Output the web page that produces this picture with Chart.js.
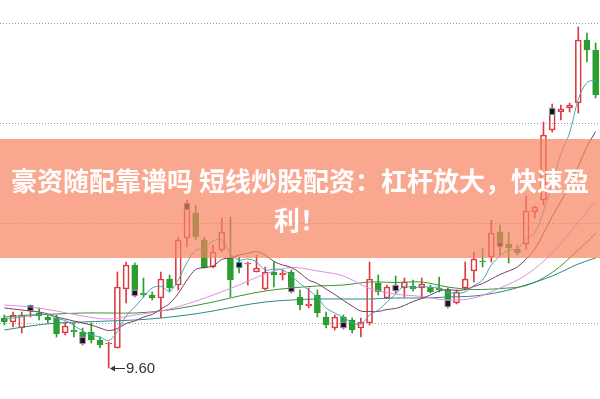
<!DOCTYPE html>
<html>
<head>
<meta charset="utf-8">
<script src="https://cdn.jsdelivr.net/npm/chart.js@4.4.1/dist/chart.umd.min.js"></script>
<style>
html, body { margin: 0; padding: 0; background: #fff; }
#wrap { position: relative; width: 600px; height: 399px; overflow: hidden; }
#banner {
  position: absolute; left: 0; top: 139px; width: 600px; height: 119px;
  box-sizing: border-box; padding: 0 6px;
  background: rgba(248, 130, 95, 0.7); color: #fff;
  font: bold 26px/39px "Noto Sans CJK SC", sans-serif;
  display: flex; align-items: center; justify-content: center; text-align: center;
}
</style>
</head>
<body>
<div id="wrap">
  <canvas id="chart" width="600" height="399"></canvas>
  <div id="banner">豪资随配靠谱吗 短线炒股配资：杠杆放大，快速盈利！</div>
</div>
<script>
// daily candles
var opens = [10.60, 10.52, 10.40, 10.76, 10.70, 10.62, 10.60, 10.30, 10.36, 10.32,
  10.32, 10.16, 10.08, 10.00, 11.18, 11.66, 11.10, 11.06, 11.00, 11.38,
  11.26, 12.20, 12.70, 12.16, 11.62, 11.96, 11.80, 11.72, 11.68, 11.52,
  11.18, 11.52, 11.46, 11.52, 11.02, 10.84, 11.06, 10.62, 10.40, 10.62,
  10.56, 10.40, 10.50, 11.30, 11.00, 11.26, 11.20, 11.24, 11.20, 11.22,
  11.20, 11.16, 10.90, 11.20, 11.54, 11.74, 11.82, 12.32, 12.08, 11.98,
  12.08, 12.72, 12.96, 14.36, 14.72, 14.80, 14.90, 16.16, 15.96];
var highs = [10.66, 10.72, 10.72, 10.86, 10.80, 10.66, 10.66, 10.52, 10.50, 10.40,
  10.50, 10.22, 10.12, 11.52, 11.72, 11.70, 11.40, 11.12, 11.52, 11.46,
  12.22, 12.96, 12.86, 12.22, 12.06, 12.60, 12.62, 11.82, 11.72, 11.86,
  11.62, 11.72, 11.56, 11.56, 11.16, 11.20, 11.16, 10.72, 10.66, 10.66,
  10.60, 10.60, 11.72, 11.46, 11.26, 11.44, 11.40, 11.36, 11.40, 11.26,
  11.42, 11.20, 11.16, 11.72, 11.92, 12.00, 12.56, 12.46, 12.32, 12.06,
  13.04, 12.84, 14.52, 14.88, 14.86, 14.90, 16.42, 16.30, 16.10];
var lows = [10.46, 10.42, 10.30, 10.62, 10.56, 10.50, 10.22, 10.26, 10.22, 10.06,
  10.10, 10.00, 9.60, 10.00, 10.90, 11.02, 11.02, 10.96, 10.60, 11.12,
  11.16, 12.02, 12.16, 11.60, 11.60, 11.92, 11.02, 11.50, 11.26, 11.52,
  11.16, 11.22, 11.36, 11.10, 10.76, 10.80, 10.62, 10.40, 10.36, 10.38,
  10.30, 10.22, 10.46, 11.06, 11.00, 11.10, 11.02, 11.14, 11.00, 11.10,
  11.12, 10.80, 10.88, 11.16, 11.32, 11.62, 11.72, 11.86, 11.70, 11.86,
  11.98, 12.60, 12.86, 14.32, 14.56, 14.72, 14.70, 15.72, 15.00];
var closes = [10.52, 10.66, 10.66, 10.82, 10.64, 10.56, 10.28, 10.44, 10.32, 10.10,
  10.16, 10.06, 10.10, 11.22, 11.66, 11.04, 11.06, 11.00, 11.38, 11.20,
  12.16, 12.80, 12.22, 11.60, 11.92, 12.32, 11.36, 11.60, 11.70, 11.60,
  11.52, 11.46, 11.50, 11.12, 10.86, 10.88, 10.70, 10.46, 10.62, 10.40,
  10.36, 10.52, 11.38, 11.12, 11.22, 11.14, 11.32, 11.18, 11.28, 11.12,
  11.16, 10.82, 11.12, 11.38, 11.78, 11.72, 12.30, 12.02, 12.00, 11.90,
  12.74, 12.82, 14.26, 14.80, 14.78, 14.86, 16.16, 15.96, 15.06];

// small dark flags drawn on some candles
var flagLo = {3: 10.74, 9: 10.08, 15: 11.04, 21: 12.76, 27: 11.60, 33: 11.12,
  39: 10.40, 45: 11.14, 51: 10.82, 57: 12.02, 63: 14.66};
var flagHi = {3: 10.86, 9: 10.22, 15: 11.16, 21: 12.90, 27: 11.72, 33: 11.22,
  39: 10.52, 45: 11.26, 51: 10.96, 57: 12.12, 63: 14.80};
var flagCyan = [3, 21, 27, 63];

// moving average lines
var ma5 = [10.58, 10.60, 10.62, 10.65, 10.66, 10.67, 10.59, 10.55, 10.45, 10.34,
  10.26, 10.22, 10.15, 10.33, 10.64, 10.82, 11.02, 11.20, 11.23, 11.14,
  11.36, 11.71, 11.95, 12.00, 12.14, 12.17, 11.88, 11.76, 11.78, 11.72,
  11.56, 11.58, 11.56, 11.44, 11.29, 11.16, 11.01, 10.80, 10.70, 10.61,
  10.51, 10.47, 10.66, 10.76, 10.92, 11.08, 11.24, 11.20, 11.23, 11.21,
  11.21, 11.11, 11.10, 11.12, 11.25, 11.36, 11.66, 11.84, 11.96, 11.98,
  12.19, 12.30, 12.74, 13.30, 13.88, 14.30, 14.97, 15.31, 15.36];
var ma10 = [10.80, 10.78, 10.76, 10.74, 10.72, 10.68, 10.62, 10.58, 10.54, 10.50,
  10.46, 10.40, 10.35, 10.39, 10.49, 10.54, 10.62, 10.67, 10.78, 10.89,
  11.09, 11.36, 11.57, 11.61, 11.64, 11.77, 11.80, 11.86, 11.89, 11.93,
  11.86, 11.73, 11.66, 11.61, 11.50, 11.36, 11.29, 11.18, 11.07, 10.95,
  10.84, 10.74, 10.73, 10.73, 10.77, 10.79, 10.85, 10.93, 10.99, 11.06,
  11.14, 11.17, 11.15, 11.17, 11.23, 11.29, 11.38, 11.47, 11.54, 11.62,
  11.78, 11.98, 12.29, 12.63, 12.93, 13.25, 13.63, 14.03, 14.33];
var ma20 = [10.86, null, null, 10.82, null, null, 10.74, null, null, 10.64,
  null, null, 10.58, null, null, 10.66, null, null, 10.74, null,
  null, 10.88, null, null, 11.06, null, null, 11.26, null, null,
  11.48, null, null, 11.61, null, null, 11.54, null, null, 11.44,
  null, null, 11.19, null, null, 11.08, null, null, 11.03, null,
  null, 10.96, null, null, 11.00, null, null, 11.20, null, null,
  11.46, null, null, 11.90, null, null, 12.51, null, 12.94];
var ma30 = [10.62, null, null, 10.66, null, null, 10.68, null, null, 10.70,
  null, null, 10.70, null, null, 10.70, null, null, 10.74, null,
  null, 10.82, null, null, 10.92, null, null, 11.04, null, null,
  11.14, null, null, 11.20, null, null, 11.24, null, null, 11.26,
  null, null, 11.32, null, null, 11.31, null, null, 11.32, null,
  null, 11.22, null, null, 11.17, null, null, 11.19, null, null,
  11.25, null, null, 11.51, null, null, 11.96, null, 12.29];
var ma60 = [10.36, null, null, 10.44, null, null, 10.50, null, null, 10.52,
  null, null, 10.54, null, null, 10.56, null, null, 10.60, null,
  null, 10.66, null, null, 10.74, null, null, 10.84, null, null,
  10.92, null, null, 10.96, null, null, 10.98, null, null, 10.98,
  null, null, 10.98, null, null, 11.00, null, null, 11.00, null,
  null, 11.02, null, null, 11.04, null, null, 11.12, null, null,
  11.26, null, null, 11.44, null, null, 11.68, null, 11.80];

// dotted price grid
var gridPrices = [10.5, 12.5, 14.5, 16.5];

var days = closes.map(function (c, i) { return 'D' + (i + 1); });
var red = '#df3a40', green = '#2a9e2e';
var rising = closes.map(function (c, i) { return c >= opens[i]; });
var candleColor = rising.map(function (u) { return u ? red : green; });
var flags = days.map(function (d, i) {
  return flagLo[i] === undefined ? null : [flagLo[i], flagHi[i]];
});

function maLine(label, data, color) {
  return {
    type: 'line', label: label, data: data, borderColor: color, borderWidth: 1,
    pointRadius: 0, tension: 0.35, spanGaps: true, order: 0
  };
}

var lowMark = {
  id: 'lowMark',
  afterDatasetsDraw: function (chart) {
    var lo = Math.min.apply(null, lows);
    var i = lows.indexOf(lo);
    var x = Math.round(chart.scales.x.getPixelForValue(i));
    var y = Math.round(chart.scales.y.getPixelForValue(lo));
    var ctx = chart.ctx;
    ctx.save();
    ctx.strokeStyle = '#333';
    ctx.fillStyle = '#333';
    ctx.lineWidth = 1;
    ctx.beginPath();
    ctx.moveTo(x + 2, y + 0.5);
    ctx.lineTo(x + 16, y + 0.5);
    ctx.stroke();
    ctx.beginPath();
    ctx.moveTo(x + 1, y + 0.5);
    ctx.lineTo(x + 6, y - 2.5);
    ctx.lineTo(x + 6, y + 3.5);
    ctx.closePath();
    ctx.fill();
    ctx.font = '15px "Liberation Sans", Arial, sans-serif';
    ctx.textBaseline = 'middle';
    ctx.fillText(lo.toFixed(2), x + 17, y + 1);
    ctx.restore();
  }
};

new Chart('chart', {
  type: 'bar',
  data: {
    labels: days,
    datasets: [
      maLine('MA5', ma5, '#4ea3b6'),
      maLine('MA10', ma10, '#7a3c62'),
      maLine('MA20', ma20, '#e08ce6'),
      maLine('MA30', ma30, '#3a923a'),
      maLine('MA60', ma60, '#2b8a8c'),
      {
        label: 'flag', data: flags, backgroundColor: '#151515',
        borderColor: days.map(function (d, i) { return flagCyan.indexOf(i) >= 0 ? '#5cc8d0' : '#e58ae0'; }),
        borderWidth: 1, borderSkipped: false, barThickness: 6, grouped: false, order: 1
      },
      {
        label: 'body', data: opens.map(function (o, i) { return [o, closes[i]]; }),
        backgroundColor: rising.map(function (u) { return u ? 'rgba(255,255,255,0)' : green; }),
        borderColor: candleColor, borderWidth: 1, borderSkipped: false,
        barThickness: 6, grouped: false, order: 2
      },
      {
        label: 'upper', data: highs.map(function (h, i) { return [Math.max(opens[i], closes[i]), h]; }),
        backgroundColor: candleColor, barThickness: 1, grouped: false, order: 3
      },
      {
        label: 'lower', data: lows.map(function (l, i) { return [l, Math.min(opens[i], closes[i])]; }),
        backgroundColor: candleColor, barThickness: 1, grouped: false, order: 3
      }
    ]
  },
  options: {
    responsive: false,
    animation: false,
    layout: { padding: { left: -0.5, right: -2.5, top: 0, bottom: 0 } },
    plugins: { legend: { display: false }, tooltip: { enabled: false } },
    scales: {
      x: { display: false, offset: true },
      y: {
        min: 8.98,
        max: 16.96,
        afterBuildTicks: function (s) { s.ticks = gridPrices.map(function (v) { return { value: v }; }); },
        afterFit: function (s) { s.width = 0; },
        ticks: { display: false },
        grid: { color: '#9a9a9a', drawTicks: false },
        border: { display: false, dash: [1, 2] }
      }
    }
  },
  plugins: [lowMark]
});
</script>
</body>
</html>
